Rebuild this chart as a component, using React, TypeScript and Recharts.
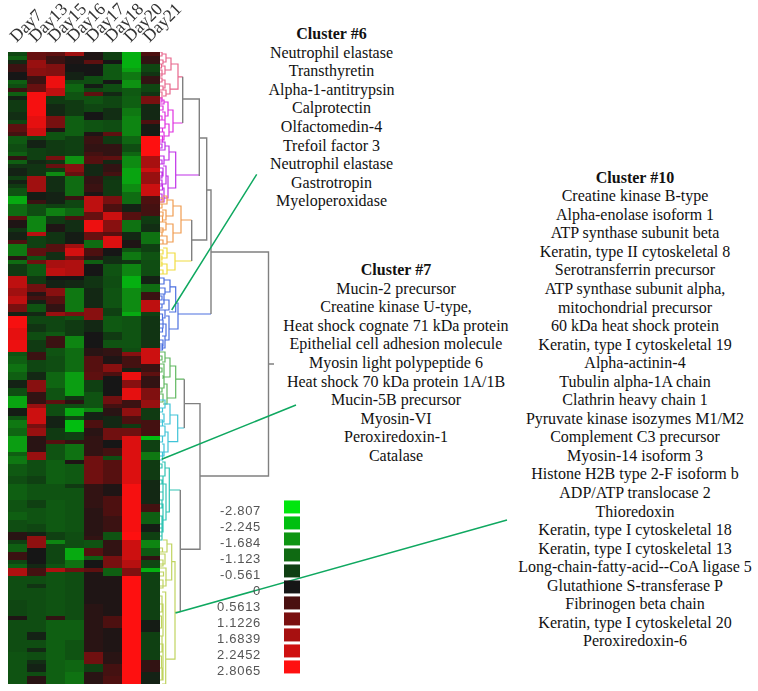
import React from "react";
import { BarChart, Bar, Cell, XAxis, YAxis, LineChart, Line } from "recharts";

type Run = [number, number];
const days = ["Day7", "Day13", "Day15", "Day16", "Day17", "Day18", "Day20", "Day21"];
const rowCount = 158;

const day7: Run[] = [[1,-.8],[1,-1.2],[1,-.3],[2,.4],[2,0],[1,-1.2],[1,-.9],[1,.4],[1,-1.2],[1,-.2],[3,-.6],[2,-.4],[1,-.8],[2,.8],[1,.5],[2,-1.1],[2,-.9],[1,-1.2],[1,.3],[1,-1.2],[1,-.5],[2,-.2],[1,-.7],[1,-.2],[1,-.6],[2,-1],[2,-2.4],[3,-1.4],[1,.8],[2,.1],[1,-.5],[2,-.2],[1,.6],[3,-1.6],[1,.2],[1,-1.4],[3,-.6],[3,2],[2,1.6],[2,2],[2,1.1],[1,-.2],[3,2.7],[3,2.5],[3,2.6],[1,-1],[2,-1.2],[2,-1.5],[2,-1.2],[2,-.2],[2,-.9],[3,-2.3],[2,-.1],[1,-1],[2,-1.6],[2,-1.3],[4,-2.2],[1,-1.2],[2,-1.6],[3,-1.1],[2,-.9],[4,-1.2],[3,-1],[2,-1.2],[3,-.9],[2,.2],[1,-.7],[2,-1.2],[2,.4],[1,-.8],[1,-1.2],[2,1.8],[6,-.9],[4,-.8],[1,.1],[8,-.9],[8,-1]];
const day13: Run[] = [[2,.9],[2,1.5],[2,1.3],[2,.4],[2,.9],[6,2.7],[3,2.5],[2,2.2],[1,-.8],[2,-.2],[3,-.7],[1,-.3],[3,-.5],[4,1.6],[2,-.1],[1,.4],[3,-.9],[4,-1.8],[1,1.9],[3,-.7],[2,.8],[1,-1],[1,1],[3,-1.1],[2,-.6],[2,1],[1,.2],[1,.5],[1,-.2],[2,-1],[1,-.3],[2,-.8],[2,-.5],[2,-.9],[3,-.6],[2,.4],[3,-.8],[2,-.3],[3,1.3],[3,.3],[1,1.5],[4,2.2],[1,1.1],[2,1.5],[4,.2],[2,1.5],[4,-.9],[2,-.7],[4,-1],[2,-.7],[4,-1],[2,-.8],[1,-.2],[3,1.4],[4,0],[1,-.3],[2,.5],[2,-.9],[1,-.5],[11,-.9],[2,-.2],[2,-.9],[1,-.3],[2,-.9],[1,-.4],[2,-.2],[1,-.9],[2,.2]];
const day15: Run[] = [[1,.8],[2,.4],[3,1.2],[3,2.6],[2,2],[2,-.6],[3,-.3],[3,1.1],[1,.1],[2,-1],[4,-.6],[1,1.1],[1,-.5],[1,.9],[1,-.6],[1,-1.9],[4,-.4],[3,-.2],[1,-.7],[2,-1.7],[2,-.6],[2,.1],[3,-.5],[2,.7],[2,-.4],[2,1.7],[2,2],[1,0],[2,-.2],[2,1.3],[2,.7],[2,.3],[1,1.5],[4,-.8],[1,-1.1],[3,.4],[2,-1],[4,-.9],[4,-1.3],[3,-1],[1,.8],[3,-.9],[3,-.2],[3,-.6],[1,.7],[4,-1],[6,-1.2],[4,-1],[8,-1.1],[2,-.7],[1,-1.8],[5,-.8],[1,-1],[1,1.8],[11,-1],[1,.3],[16,-1.2]];
const day16: Run[] = [[1,1.6],[2,.1],[2,0],[2,-.2],[1,-.9],[2,-1.3],[2,-1],[4,-.6],[5,-1.2],[5,-.7],[2,-2],[2,1.3],[1,.9],[5,-1.4],[1,.4],[2,-.8],[2,-1.3],[1,.6],[3,-.4],[3,-.1],[1,1.6],[2,2.3],[1,1],[4,1.8],[1,0],[2,-.3],[6,-1.6],[1,1.1],[1,-1],[4,-.6],[3,-1.8],[6,-1.4],[6,-2.2],[1,-.5],[1,.2],[1,-.9],[2,-2.4],[1,-.8],[3,-2.7],[2,-.7],[1,.3],[4,-1.5],[1,.1],[5,-1.1],[1,-.6],[11,-1],[4,-.9],[3,-2.4],[2,-1.5],[1,1],[12,-.9],[5,-1.2],[5,-1],[3,-1.3],[3,-1.5]];
const day17: Run[] = [[2,.1],[1,.8],[3,0],[2,-.9],[1,-.1],[1,-.8],[1,.8],[2,-1],[2,-.8],[2,0],[3,-1],[1,.1],[2,.4],[2,.3],[1,.5],[2,.7],[3,-.3],[2,.3],[2,.4],[1,.1],[4,2],[2,.9],[3,2.6],[2,.9],[2,-1.4],[2,.6],[1,.2],[1,-1.2],[3,0],[3,-.5],[5,-.3],[3,1.3],[3,-.3],[4,0],[2,.2],[4,.7],[2,.8],[3,-.7],[4,-1],[1,-1.8],[2,-.2],[2,.6],[2,.2],[5,.3],[7,1],[6,.3],[6,.2],[1,.2],[1,.3],[2,-1],[2,.7],[1,-1.2],[2,0],[1,.8],[8,.1],[12,.2],[3,1],[2,-.7],[3,.2]];
const day18: Run[] = [[2,-.7],[1,0],[4,-1.1],[1,0],[2,-.9],[1,-.3],[3,-.8],[3,-.4],[3,-.9],[1,.8],[2,-.6],[3,.3],[1,.8],[1,-.3],[2,.3],[1,.5],[1,-.5],[4,-.6],[2,1.1],[2,.6],[2,2.2],[3,1.3],[1,.7],[3,2.4],[2,0],[2,-.4],[3,-1],[3,-.9],[5,-1],[2,-.7],[4,-1.1],[2,-.6],[2,-1],[2,.3],[2,.1],[2,1.3],[1,.6],[5,0],[2,1],[1,.5],[2,.2],[3,-.3],[3,1],[2,0],[2,.5],[1,-.9],[6,.7],[3,.1],[5,.6],[4,.4],[2,-1],[4,.3],[3,1.1],[2,-1.2],[10,.1],[3,.6],[6,.1],[3,.2],[3,.5],[2,.6]];
const day20: Run[] = [[4,-2.5],[1,-2.2],[2,-1.6],[2,-2],[2,-1.1],[3,-1.2],[2,-1.6],[5,-1.8],[2,-1.3],[2,-.9],[1,-1.3],[3,-1.9],[4,-2.3],[2,-1.9],[3,-1.4],[2,-.2],[2,.7],[3,-1.5],[2,-.3],[2,.1],[1,-1],[2,-1.6],[1,-.5],[3,-1.8],[3,-2.5],[6,-1.9],[1,-2.4],[8,-1],[1,-.9],[1,1.3],[3,.5],[1,-.2],[2,2.6],[2,1.3],[3,2.5],[2,.4],[2,1.4],[2,.6],[1,-.6],[2,1],[12,2.4],[12,2.7],[2,2.8],[5,2.2],[2,1.9],[2,1.2],[27,2.8]];
const day21: Run[] = [[1,.6],[2,.3],[2,-.8],[1,-.5],[2,.3],[2,-.8],[1,-.5],[2,1.1],[4,-.3],[1,.6],[3,-.1],[5,2.8],[3,1.7],[1,2.2],[3,1.5],[3,2.2],[2,.6],[2,.5],[1,.5],[2,-.6],[2,-.4],[3,-1.5],[2,-.7],[2,-1],[4,-.9],[2,-.2],[2,-1.4],[2,.4],[3,2],[1,-.7],[8,-.5],[4,2.2],[2,.4],[1,.8],[3,.3],[3,1.2],[2,1.5],[3,-.6],[4,.5],[1,-2.7],[3,-.7],[2,-1.6],[5,-.6],[6,-.3],[2,.5],[3,-1.2],[2,-.1],[2,-.7],[2,-1.8],[2,-1.1],[1,.3],[2,-.8],[1,-2.5],[12,-.7],[3,-.1],[7,-.7],[3,.3],[3,-.2]];
const columns = [day7, day13, day15, day16, day17, day18, day20, day21];

const legendValues = ["-2.807", "-2.245", "-1.684", "-1.123", "-0.561", "0", "0.5613", "1.1226", "1.6839", "2.2452", "2.8065"];
const legendColors = ["#00e60e", "#00bf10", "#0e9512", "#0f6a12", "#0f3f12", "#161616", "#4a1010", "#7a1010", "#a71010", "#cf1010", "#ff1010"];

// dendrogram: [top row, bottom row, merge height, child height top, child height bottom]
type Br = number[];
const pink: Br[] = [[3,9.3,18,11,10],[1.5,4.5,11,6,5],[8,10.5,10,5,6],[.5,2.5,6,2,3],[3.5,5.5,5,2,0],[7,9,5,2,3],[9.5,11,6,0,3],[0,1,2],[2,3,3],[6.5,7.5,2],[8.5,9.5,3],[4.5,6,2],[10,11.5,2],[3,4,1.5]];
const magenta: Br[] = [[14.5,20,13,8,9],[12.5,16,8,4,5],[18,21,9,5,4],[12,13,4],[15,17,5,2,0],[17,19,5,0,2],[20,22,4,2,0],[13.5,14.5,3],[11.5,12.5,2],[16,17,2],[19,20,2.5],[21,22.5,2.5]];
const purple: Br[] = [[25,34,15.7,9,8],[23.5,27,9,5,4],[31,36.5,8,6,4],[22.5,24.5,5,2,0],[26,28,4,0,2],[28.5,33,6,3,2],[34,37.5,4,2,0],[29,31,3],[32,33.5,2],[35.5,37,2],[23,24,2],[27,28,2],[30,31.5,2],[33,34.5,2.5]];
const orange: Br[] = [[38.5,45.25,21,13,13],[37,41,13,7,6],[43,47.5,13,6,7],[36,38,7,3,0],[39.5,42,6,2,3],[42.5,44.5,6,3,0],[46,48,7,0,3],[36.5,37.5,3],[40,41,3],[44,45,3],[47,48,3],[38,39,2],[41,42.5,2.5],[45,46,2]];
const yellow: Br[] = [[50.25,54.5,15,7,7],[49,51.5,7,3,0],[53,55.5,7,0,3],[49.5,50.5,3],[54.5,55.5,3],[51,52,2],[52.5,53.5,2]];
const blue: Br[] = [[62.75,69.25,18,15.7,9],[58.7,65,15.7,10,9],[66,72,9,6,5],[57,60,10,4,5],[62,64.5,9,3,4],[64.5,66.5,5,0,2],[68,71,6,0,3],[71,74,5,2,0],[56.5,58,4],[59,60.5,5],[60.5,63,4],[67,69,3],[72,73.5,3],[61,62,2],[63,64,2],[65.5,67,2.5],[69,70,2.5],[73,74.5,2.5]];
const green: Br[] = [[78.5,86.5,15.7,10,7],[76.5,81.25,10,5,3],[83,88,7,4,3],[75,77.5,5,0,2],[78,81,4,0,2],[81.5,84,4,2,0],[85.5,87.5,3],[76,77,2],[79,80,2],[84,85,2]];
const cyan: Br[] = [[90.75,97.4,17.7,10,8],[88,93,10,5,4],[95,100,8,5,3],[87,89,5],[90.5,92.5,4,2,0],[93.5,96,5,0,2],[98,101,4,2,0],[89,90,2.5],[92,93.5,2.5],[96,97.5,2.5],[100,102,2.5]];
const teal: Br[] = [[104,115,9.3,5,6],[102.5,106,5,2,0],[108,117,6,3,2],[106,110,3],[113,120,3],[116,121,2],[103,104,2],[107,108,2],[110,112,3],[112,114,2],[118,119,2],[120,122,2]];
const olive: Br[] = [[127.4,151.8,15,11.7,5.7],[123,132,11.7,7,5],[122,125,7,3,0],[125.5,128,5],[129,133.5,6],[135,158,5.7,2,2],[138,146,3],[148,157,3],[124,125,2.5],[127,128.5,3],[130,131,3.5],[132,134,3],[136,140,2],[141,144,1.5],[146,150,2],[151,154,1.5],[154,157,2]];

// arms joining a cluster to the grey trunk: [row, from height, to height]
const armsPink = [[6.2,22.7,18]];
const armsMagenta = [[17.75,22.7,13]];
const armsPurple = [[30.75,39.3,15.7]];
const armsOrange = [[42,31.7,21]];
const armsYellow = [[52.25,31.7,15]];
const armsBlue = [[65.5,51,18]];
const armsGreen = [[81.8,24.3,15.7]];
const armsCyan = [[94,24.3,17.7]];
const armsTeal = [[109.5,20.3,9.3]];
const armsOlive = [[140,20.3,15]];

// grey trunk polylines: [height, row] points
const trunks = [
  [[51,50],[108.5,50],[108.5,106],[40,106]],
  [[108.5,78],[114,78]],
  [[46.7,34.5],[51,34.5],[51,65.5]],
  [[39.3,21.5],[46.7,21.5],[46.7,47],[31.7,47]],
  [[22.7,11.75],[39.3,11.75],[39.3,31]],
  [[22.7,6.2],[22.7,17.75]],
  [[31.7,42],[31.7,52.25]],
  [[24.3,87.9],[40,87.9],[40,124.3],[20.3,124.3]],
  [[24.3,81.8],[24.3,94]],
  [[20.3,109.5],[20.3,140]],
];
const connectors = [
  [[96.7,30.6],[11.7,64.5]],
  [[136,88.25],[1.7,101.8]],
  [[347,117],[15.5,140.25]],
];

const cluster6 = ["Neutrophil elastase","Transthyretin","Alpha-1-antitrypsin","Calprotectin","Olfactomedin-4","Trefoil factor 3","Neutrophil elastase","Gastrotropin","Myeloperoxidase"];
const cluster7 = ["Mucin-2 precursor","Creatine kinase U-type,","Heat shock cognate 71 kDa protein","Epithelial cell adhesion molecule","Myosin light polypeptide 6","Heat shock 70 kDa protein 1A/1B","Mucin-5B precursor","Myosin-VI","Peroxiredoxin-1","Catalase"];
const cluster10 = ["Creatine kinase B-type","Alpha-enolase isoform 1","ATP synthase subunit beta","Keratin, type II cytoskeletal 8","Serotransferrin precursor","ATP synthase subunit alpha,","mitochondrial precursor","60 kDa heat shock protein","Keratin, type I cytoskeletal 19","Alpha-actinin-4","Tubulin alpha-1A chain","Clathrin heavy chain 1","Pyruvate kinase isozymes M1/M2","Complement C3 precursor","Myosin-14 isoform 3","Histone H2B type 2-F isoform b","ADP/ATP translocase 2","Thioredoxin","Keratin, type I cytoskeletal 18","Keratin, type I cytoskeletal 13","Long-chain-fatty-acid--CoA ligase 5","Glutathione S-transferase P","Fibrinogen beta chain","Keratin, type I cytoskeletal 20","Peroxiredoxin-6"];

const W = 758, H = 691;
const greenTone = 0.82;
const legendNums = legendValues.map(Number);
function hex(c: string) { return [1,3,5].map(i => parseInt(c.slice(i,i+2),16)); }
function colorOf(raw: number) {
  const v = raw < 0 ? raw * greenTone : raw;
  const n = legendNums;
  if (v <= n[0]) return legendColors[0];
  for (let i = 1; i < n.length; i++) {
    if (v <= n[i]) {
      const t = (v - n[i-1]) / (n[i] - n[i-1]);
      const a = hex(legendColors[i-1]), b = hex(legendColors[i]);
      return `rgb(${a.map((x,k)=>Math.round(x+(b[k]-x)*t)).join(",")})`;
    }
  }
  return legendColors[n.length-1];
}

const maxRuns = Math.max(...columns.map(c => c.length));
const runIdx = Array.from({ length: maxRuns }, (_, j) => j);
const heatData = days.map((day, i) => {
  const o: Record<string, any> = { day };
  runIdx.forEach(j => { o["s"+j] = columns[i][j] ? columns[i][j][0] : 0; });
  return o;
});

function expand(brs: Br[], arms: number[][]) {
  const pts: { x: number; y: number | null }[] = [];
  brs.forEach(([t,b,p,ct=0,cb=0]) => {
    pts.push({x:ct,y:t},{x:p,y:t},{x:p,y:b},{x:cb,y:b},{x:cb,y:null});
  });
  arms.forEach(([r,a,c]) => { pts.push({x:a,y:r},{x:c,y:r},{x:c,y:null}); });
  return pts;
}
function poly(list: number[][][]) {
  const pts: { x: number; y: number | null }[] = [];
  list.forEach(l => {
    l.forEach(([x,y]) => pts.push({x,y}));
    pts.push({x:l[l.length-1][0],y:null});
  });
  return pts;
}
const treeSeries = [
  { name:"pink", color:"#e8688e", data:expand(pink,armsPink) },
  { name:"magenta", color:"#e030e0", data:expand(magenta,armsMagenta) },
  { name:"purple", color:"#c030e8", data:expand(purple,armsPurple) },
  { name:"orange", color:"#f09c50", data:expand(orange,armsOrange) },
  { name:"yellow", color:"#f0dc40", data:expand(yellow,armsYellow) },
  { name:"blue", color:"#4c70e0", data:expand(blue,armsBlue) },
  { name:"green", color:"#60b860", data:expand(green,armsGreen) },
  { name:"cyan", color:"#40c4d8", data:expand(cyan,armsCyan) },
  { name:"teal", color:"#30c4b4", data:expand(teal,armsTeal) },
  { name:"olive", color:"#c0d460", data:expand(olive,armsOlive) },
];
const legendData = legendValues.map(label => ({ label, v: 1 }));

const layer: React.CSSProperties = { position: "absolute", left: 0, top: 0 };
const serif = "'Liberation Serif', 'Times New Roman', serif";

function Block({ title, lines, cx, y }: { title: string; lines: string[]; cx: number; y: number }) {
  return (
    <div style={{ position:"absolute", left:cx-150, top:y, width:300, textAlign:"center", fontFamily:serif, fontSize:16, lineHeight:"18.55px", color:"#111", whiteSpace:"nowrap" }}>
      <div style={{ fontWeight:"bold" }}>{title}</div>
      {lines.map((l,i)=><div key={i}>{l}</div>)}
    </div>
  );
}

export default function App() {
  return (
    <div style={{ position:"absolute", left:0, top:0, width:W, height:H, background:"#fff", overflow:"hidden" }}>
      <div style={{ ...layer, filter:"blur(0.7px)" }}>
        <BarChart width={W} height={H} data={heatData} barCategoryGap={0} barGap={0}
          margin={{ left:8, top:42, right:W-160, bottom:H-684 }}>
          <XAxis dataKey="day" orientation="top" height={10} axisLine={false} tickLine={false} interval={0}
            tickMargin={3} angle={-45} textAnchor="start" dx={-1}
            tick={{ fontFamily:serif, fontSize:17.5, fill:"#333" }} />
          <YAxis hide reversed width={0} type="number" domain={[0,rowCount]} />
          {runIdx.map(j => (
            <Bar key={j} dataKey={"s"+j} stackId="heat" isAnimationActive={false}>
              {days.map((d,i)=>(
                <Cell key={d} fill={colorOf(columns[i][j] ? columns[i][j][1] : 0)} />
              ))}
            </Bar>
          ))}
        </BarChart>
      </div>
      <div style={{ ...layer, filter:"blur(0.3px)" }}>
        <LineChart width={W} height={H} margin={{ left:160, top:52, right:0, bottom:H-684 }}>
          <XAxis hide type="number" dataKey="x" domain={[0,W-160]} allowDataOverflow />
          <YAxis hide reversed width={0} type="number" domain={[0,rowCount]} allowDataOverflow />
          {treeSeries.map(s => (
            <Line key={s.name} data={s.data} dataKey="y" stroke={s.color} strokeWidth={1.2} dot={false} connectNulls={false} isAnimationActive={false} />
          ))}
          <Line data={poly(trunks)} dataKey="y" stroke="#808080" strokeWidth={1.4} dot={false} connectNulls={false} isAnimationActive={false} />
          <Line data={poly(connectors)} dataKey="y" stroke="#0fa860" strokeWidth={1.5} dot={false} connectNulls={false} isAnimationActive={false} />
        </LineChart>
      </div>
      <div style={{ ...layer, filter:"blur(0.4px)" }}>
        <BarChart layout="vertical" width={W} height={H} data={legendData} barCategoryGap="9%"
          margin={{ left:234, top:499, right:W-300, bottom:H-675 }}>
          <XAxis hide type="number" domain={[0,1]} />
          <YAxis type="category" dataKey="label" width={50} axisLine={false} tickLine={false} interval={0} tickMargin={17} dy={3}
            tick={{ fontFamily:"'Liberation Sans', Arial, sans-serif", fontSize:13, fill:"#555", letterSpacing:0.7 }} />
          <Bar dataKey="v" isAnimationActive={false}>
            {legendData.map((d,i)=><Cell key={d.label} fill={legendColors[i]} />)}
          </Bar>
        </BarChart>
      </div>
      <Block title="Cluster #6" lines={cluster6} cx={331.5} y={25.3} />
      <Block title="Cluster #7" lines={cluster7} cx={396} y={261.3} />
      <Block title="Cluster #10" lines={cluster10} cx={635} y={168.7} />
    </div>
  );
}
